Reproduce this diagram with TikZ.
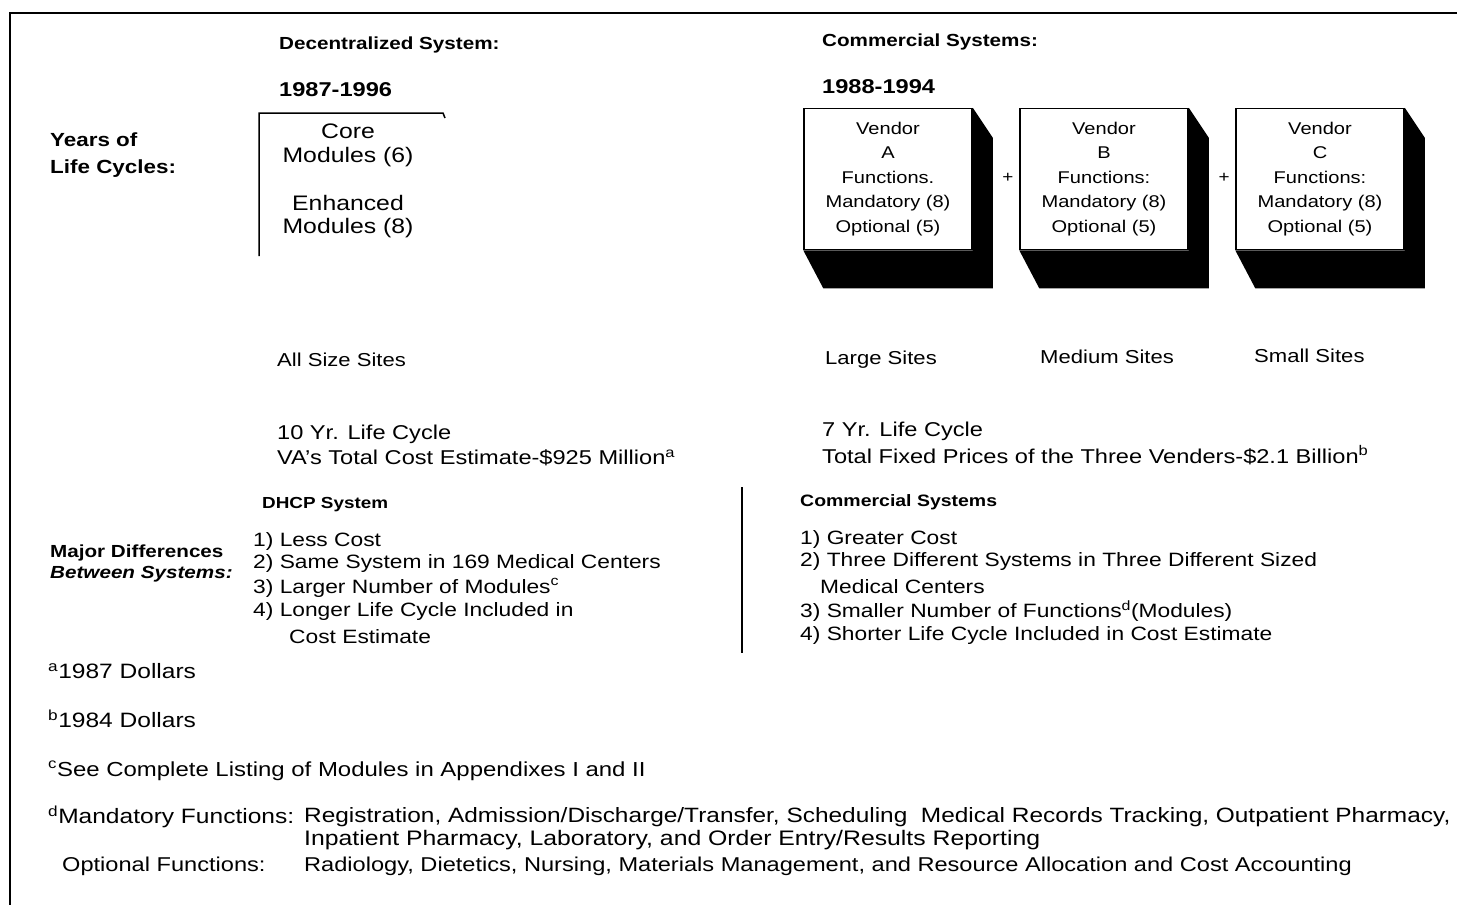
\documentclass[tikz,border=0pt]{standalone}
\usepackage{fontspec}
\setmainfont{Liberation Sans}[FakeStretch=1.18]
\begin{document}
\begin{tikzpicture}[x=1pt,y=-1pt,
  txt/.style={inner sep=0pt, anchor=west},
  hd/.style={txt, font=\bfseries\fontsize{17.5}{20}\selectfont},
  yr/.style={txt, font=\bfseries\fontsize{20}{24}\selectfont},
  lab/.style={txt, font=\bfseries\fontsize{19}{22}\selectfont},
  labi/.style={txt, font=\bfseries\itshape\fontsize{17.5}{22}\selectfont},
  sub/.style={txt, font=\bfseries\fontsize{16}{20}\selectfont},
  bxt/.style={inner sep=0pt, anchor=center, font=\fontsize{21}{25}\selectfont},
  site/.style={txt, font=\fontsize{18.7}{20}\selectfont},
  body/.style={txt, font=\fontsize{19.3}{24}\selectfont},
  life/.style={txt, font=\fontsize{20}{24}\selectfont},
  fn/.style={txt, font=\fontsize{20.8}{24}\selectfont},
  vbox/.style={draw, line width=1.5pt, fill=white, minimum width=168pt, minimum height=141pt,
    inner sep=0pt, align=center, font=\fontsize{17}{24.5}\selectfont},
  shade/.style={fill=black},
  rule/.style={line width=1.5pt}
]
\useasboundingbox (0,0) rectangle (1457,905);
% frame
\draw[rule] (10,905) -- (10,13) -- (1457,13);

% headings
\node[hd] (hdec) at (279,45) {Decentralized System:};
\node[hd] (hcom) at (822,42) {Commercial Systems:};
\node[yr] (ydec) at (279,90) {1987-1996};
\node[yr] (ycom) at (822,87) {1988-1994};
\node[lab] (yl1) at (50,140) {Years of};
\node[lab] (yl2) at (50,169) {Life Cycles:};

% decentralized bracket box
\draw[rule] (259,256) -- (259,113) -- (443,113) -- (445,118);
\node[bxt] (core1) at (348,131) {Core};
\node[bxt] (core2) at (348,157) {Modules (6)};
\node[bxt] (enh1) at (348,203) {Enhanced};
\node[bxt] (enh2) at (348,228) {Modules (8)};

% vendor boxes
\node[vbox] (vA) at (888,179) {Vendor\\A\\Functions.\\Mandatory (8)\\Optional (5)};
\node[vbox] (vB) at (1104,179) {Vendor\\B\\Functions:\\Mandatory (8)\\Optional (5)};
\node[vbox] (vC) at (1320,179) {Vendor\\C\\Functions:\\Mandatory (8)\\Optional (5)};
\foreach \v in {vA,vB,vC}{
  \fill[shade] (\v.north east) -- ++(20,30) -- ([shift={(20,38)}]\v.south east)
    -- ([shift={(20,38)}]\v.south west) -- (\v.south west) -- (\v.south east) -- cycle;
}
\node[inner sep=0pt, font=\fontsize{16}{18}\selectfont] (p1) at (1008,178) {+};
\node[inner sep=0pt, font=\fontsize{16}{18}\selectfont] (p2) at (1224,178) {+};

% sites
\node[site] (s0) at (277,360) {All Size Sites};
\node[site] (s1) at (825,360) {Large Sites};
\node[site] (s2) at (1040,357) {Medium Sites};
\node[site] (s3) at (1254,356) {Small Sites};

% life cycle lines
\node[life] (l1) at (277,434) {10 Yr. Life Cycle};
\node[life] (l2) at (277,458) {VA's Total Cost Estimate-\$925 Million\textsuperscript{a}};
\node[life] (r1) at (822,431) {7 Yr. Life Cycle};
\node[life] (r2) at (822,455) {Total Fixed Prices of the Three Venders-\$2.1 Billion\textsuperscript{b}};

% differences
\draw[line width=2.5pt] (742,487) -- (742,653);
\node[sub] (dh) at (262,505) {DHCP System};
\node[sub, font=\bfseries\fontsize{16.5}{20}\selectfont] (cs) at (800,502) {Commercial Systems};
\node[lab, font=\bfseries\fontsize{17.5}{22}\selectfont] (md1) at (50,553) {Major Differences};
\node[labi] (md2) at (50,574) {Between Systems:};

\node[body] (d1) at (253,541) {1) Less Cost};
\node[body] (d2) at (253,564) {2) Same System in 169 Medical Centers};
\node[body] (d3) at (253,588) {3) Larger Number of Modules\textsuperscript{c}};
\node[body] (d4) at (253,612) {4) Longer Life Cycle Included in};
\node[body] (d5) at (289,637) {Cost Estimate};

\node[body] (c1) at (800,539) {1) Greater Cost};
\node[body] (c2) at (800,562) {2) Three Different Systems in Three Different Sized};
\node[body] (c3) at (820,587) {Medical Centers};
\node[body] (c4) at (800,611) {3) Smaller Number of Functions\textsuperscript{d}(Modules)};
\node[body] (c5) at (800,636) {4) Shorter Life Cycle Included in Cost Estimate};

% footnotes
\node[fn] (fa) at (48,671) {\textsuperscript{a}1987 Dollars};
\node[fn] (fb) at (48,719) {\textsuperscript{b}1984 Dollars};
\node[fn, font=\fontsize{20.3}{24}\selectfont] (fc) at (48,771) {\textsuperscript{c}See Complete Listing of Modules in Appendixes I and II};
\node[fn] (fd) at (48,817) {\textsuperscript{d}Mandatory Functions:};
\node[fn, font=\fontsize{20}{24}\selectfont] (fo) at (62,866) {Optional Functions:};
\node[fn, font=\fontsize{20.7}{24}\selectfont] (fd1) at (304,817) {Registration, Admission/Discharge/Transfer, Scheduling\ \ Medical Records Tracking, Outpatient Pharmacy,};
\node[fn, font=\fontsize{21}{24}\selectfont] (fd2) at (304,840) {Inpatient Pharmacy, Laboratory, and Order Entry/Results Reporting};
\node[fn, font=\fontsize{20}{24}\selectfont] (fo1) at (304,866) {Radiology, Dietetics, Nursing, Materials Management, and Resource Allocation and Cost Accounting};
\end{tikzpicture}
\end{document}
